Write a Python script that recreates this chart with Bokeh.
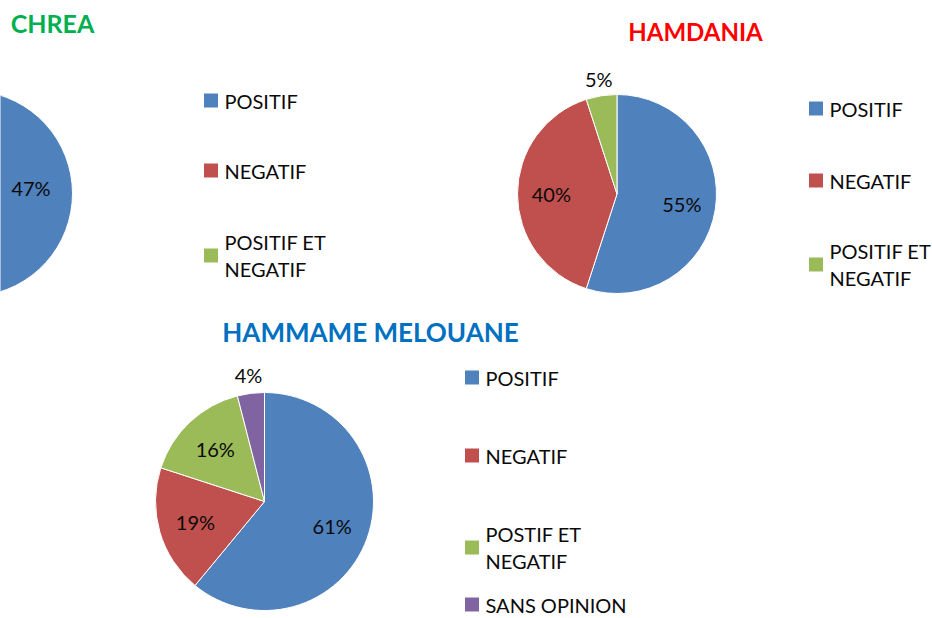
import math
from bokeh.plotting import figure
from bokeh.models import Range1d, ColumnDataSource
from bokeh.core.properties import value
from bokeh.embed import file_html
from bokeh.resources import INLINE

# ---------------- data ----------------
titles = ["CHREA", "HAMDANIA", "HAMMAME MELOUANE"]

chrea_labels = ["POSITIF", "NEGATIF", "POSITIF ET\nNEGATIF"]
chrea_values = [47, 45, 8]

hamdania_labels = ["POSITIF", "NEGATIF", "POSITIF ET\nNEGATIF"]
hamdania_values = [55, 40, 5]

melouane_labels = ["POSITIF", "NEGATIF", "POSTIF ET\nNEGATIF", "SANS OPINION"]
melouane_values = [61, 19, 16, 4]

# ---------------- style / layout ----------------
W, H = 932, 618
COLORS = ["#4F81BD", "#C0504D", "#9BBB59", "#8064A2"]
TITLE_COLORS = ["#00B050", "#FF0000", "#0070C0"]
FONT = "Lato"
TEXT_COLOR = "#0a0a0a"

p = figure(width=W, height=H, output_backend="svg", toolbar_location=None,
           x_range=Range1d(0, W), y_range=Range1d(0, H),
           min_border=0, outline_line_color=None)
p.axis.visible = False
p.grid.visible = False
p.background_fill_color = "white"
p.border_fill_color = "white"


def Y(y):
    # convert a top-down pixel position to the data coordinate
    return H - y


def draw_pie(cx, cy, r, values, labels_pct_out, inside_f=0.66, outside_f=1.17):
    total = float(sum(values))
    cum = 0.0
    starts, ends, cols = [], [], []
    lx, ly, lt = [], [], []
    for i, v in enumerate(values):
        a0 = cum / total
        a1 = (cum + v) / total
        cum += v
        starts.append(math.pi / 2 - 2 * math.pi * a0)
        ends.append(math.pi / 2 - 2 * math.pi * a1)
        cols.append(COLORS[i])
        mid = 2 * math.pi * (a0 + a1) / 2
        f = outside_f if v < labels_pct_out else inside_f
        x = cx + f * r * math.sin(mid)
        if x < 20:
            # label lies outside the visible (cropped) area
            continue
        lx.append(x)
        ly.append(Y(cy) + f * r * math.cos(mid))
        lt.append(f"{v}%")
    src = ColumnDataSource(dict(x=[cx] * len(values), y=[Y(cy)] * len(values),
                                s=starts, e=ends, c=cols))
    p.wedge(x="x", y="y", radius=r, start_angle="s", end_angle="e",
            direction="clock", fill_color="c", line_color="white",
            line_width=1, source=src)
    p.text(x=lx, y=ly, text=lt, text_font=value(FONT), text_font_size="20px",
           text_color=TEXT_COLOR, text_align="center", text_baseline="middle")


def draw_legend(x, ys, labels):
    n = len(labels)
    p.rect(x=[x + 6.5] * n, y=[Y(v) for v in ys], width=14, height=14,
           width_units="screen", height_units="screen",
           fill_color=COLORS[:n], line_color=None)
    p.text(x=[x + 20] * n, y=[Y(v) for v in ys], text=labels,
           text_font=value(FONT), text_font_size="20px", text_color=TEXT_COLOR,
           text_align="left", text_baseline="middle", text_line_height=1.12)


def draw_title(x, y, t, color, size):
    p.text(x=[x], y=[Y(y)], text=[t], text_font=value(FONT),
           text_font_size=size, text_font_style="bold", text_color=color,
           text_align="center", text_baseline="middle")


# CHREA (partially cut at left)
draw_title(52, 22, titles[0], TITLE_COLORS[0], "25px")
draw_pie(-31, 193, 103, chrea_values, 10, inside_f=0.6)
draw_legend(204, [100, 170, 255], chrea_labels)

# HAMDANIA
draw_title(695, 31, titles[1], TITLE_COLORS[1], "24px")
draw_pie(616.5, 193.5, 99.5, hamdania_values, 10)
draw_legend(809, [108, 180, 264], hamdania_labels)

# HAMMAME MELOUANE
draw_title(370, 331, titles[2], TITLE_COLORS[2], "26px")
draw_pie(264, 501, 109, melouane_values, 10)
draw_legend(465, [377, 455, 547, 604], melouane_labels)

open("out.html", "w").write(file_html(p, INLINE))
